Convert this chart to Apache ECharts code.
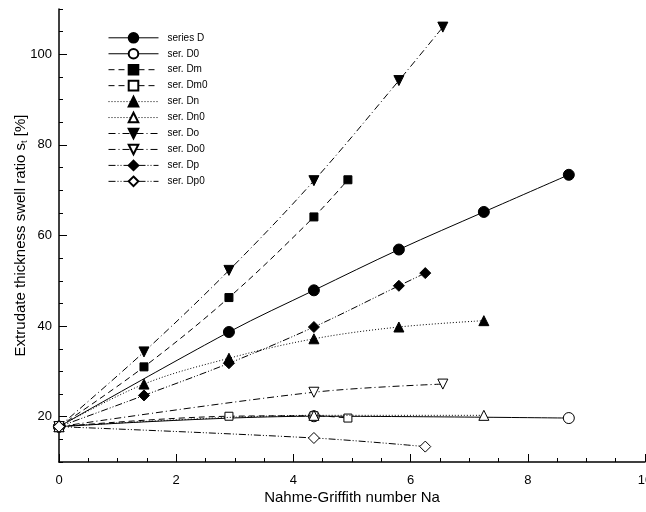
<!DOCTYPE html>
<html>
<head>
<meta charset="utf-8">
<script src="https://cdn.jsdelivr.net/npm/echarts@6/dist/echarts.min.js"></script>
<style>html,body{margin:0;padding:0;background:#fff}#c{width:646px;height:512px}</style>
</head>
<body>
<div id="c"></div>
<script>
// ---- data ----
const seriesNames = ['series D','ser. D0','ser. Dm','ser. Dm0','ser. Dn','ser. Dn0','ser. Do','ser. Do0','ser. Dp','ser. Dp0'];
const xD   = [0, 2.9, 4.35, 5.8, 7.25, 8.7];
const yD   = [17.8, 38.7, 47.9, 56.9, 65.2, 73.4];
const xD0  = [0, 4.35, 8.7];
const yD0  = [17.8, 20.1, 19.7];
const xDm  = [0, 1.45, 2.9, 4.35, 4.93];
const yDm  = [17.8, 31.0, 46.3, 64.1, 72.3];
const xDm0 = [0, 2.9, 4.35, 4.93];
const yDm0 = [17.8, 20.1, 20.2, 19.7];
const xDn  = [0, 1.45, 2.9, 4.35, 5.8, 7.25];
const yDn  = [17.8, 27.2, 32.9, 37.2, 39.8, 41.2];
const xDn0 = [0, 4.35, 7.25];
const yDn0 = [17.8, 20.3, 20.3];
const xDo  = [0, 1.45, 2.9, 4.35, 5.8, 6.55];
const yDo  = [17.8, 34.3, 52.3, 72.1, 94.2, 106.0];
const xDo0 = [0, 4.35, 6.55];
const yDo0 = [17.8, 25.4, 27.2];
const xDp  = [0, 1.45, 2.9, 4.35, 5.8, 6.25];
const yDp  = [17.8, 24.7, 31.8, 39.8, 48.9, 51.7];
const xDp0 = [0, 4.35, 6.25];
const yDp0 = [17.8, 15.3, 13.4];
const xMajorTicks = [0, 2, 4, 6, 8, 10];
const yMajorTicks = [20, 40, 60, 80, 100];

// ---- styles ----
const DASH = [6, 4], DOT = [1, 2], DASHDOT = [7, 3, 1, 3], DASHDOTDOT = [7, 2, 1, 2, 1, 2];
const pairs = (xs, ys) => xs.map((x, i) => [x, ys[i]]);
const defs = [
  {x: xD,   y: yD,   symbol: 'circle',   size: 11, fill: true,  dash: 'solid'},
  {x: xD0,  y: yD0,  symbol: 'circle',   size: 11, fill: false, dash: 'solid'},
  {x: xDm,  y: yDm,  symbol: 'rect',     size: 8,  fill: true,  dash: DASH},
  {x: xDm0, y: yDm0, symbol: 'rect',     size: 8,  fill: false, dash: DASH},
  {x: xDn,  y: yDn,  symbol: 'triangle', size: 10, fill: true,  dash: DOT},
  {x: xDn0, y: yDn0, symbol: 'triangle', size: 10, fill: false, dash: DOT},
  {x: xDo,  y: yDo,  symbol: 'triangle', size: 10, fill: true,  dash: DASHDOT, rot: 180},
  {x: xDo0, y: yDo0, symbol: 'triangle', size: 10, fill: false, dash: DASHDOT, rot: 180},
  {x: xDp,  y: yDp,  symbol: 'diamond',  size: 11, fill: true,  dash: DASHDOTDOT},
  {x: xDp0, y: yDp0, symbol: 'diamond',  size: 11, fill: false, dash: DASHDOTDOT}
];
const series = defs.map((d, i) => ({
  name: seriesNames[i],
  type: 'line',
  xAxisIndex: 0, yAxisIndex: 0,
  data: pairs(d.x, d.y),
  smooth: 0.35,
  symbol: d.symbol,
  symbolSize: d.size,
  symbolRotate: d.rot || 0,
  showSymbol: true,
  animation: false,
  z: 2 + i,
  lineStyle: {color: '#000', width: 1, type: d.dash},
  itemStyle: {color: d.fill ? '#000' : '#fff', borderColor: '#000', borderWidth: 1, opacity: 1},
  emphasis: {disabled: true}
}));

const font = 'Liberation Sans, Arial, Helvetica, sans-serif';
const chart = echarts.init(document.getElementById('c'), null, {renderer: 'canvas'});
chart.setOption({
  backgroundColor: '#fff',
  animation: false,
  grid: {left: 59, right: 1, top: 9, bottom: 50, containLabel: false, outerBoundsMode: 'none'},
  legend: {
    orient: 'vertical', left: 108, top: 32, padding: 0,
    itemWidth: 50, itemHeight: 12, itemGap: 4.35,
    data: seriesNames,
    lineStyle: {width: 1, color: '#000'},
    textStyle: {fontFamily: font, fontSize: 10, color: '#000', padding: [0, 0, 0, 4]},
    selectedMode: false
  },
  xAxis: [
    {type: 'value', min: 0, max: 10, interval: 2, position: 'bottom',
     axisLine: {show: true, lineStyle: {color: '#000', width: 1.5}},
     axisTick: {show: true, inside: true, length: 8, customValues: xMajorTicks, lineStyle: {color: '#000', width: 1}},
     axisLabel: {show: true, customValues: xMajorTicks, margin: 12, fontFamily: font, fontSize: 13, color: '#000'},
     splitLine: {show: false},
     name: 'Nahme-Griffith number Na', nameLocation: 'middle', nameGap: 28, nameMoveOverlap: false,
     nameTextStyle: {fontFamily: font, fontSize: 15, color: '#000'}},
    {type: 'value', min: 0, max: 10, interval: 0.5, position: 'bottom',
     axisLine: {show: false}, axisLabel: {show: false}, splitLine: {show: false},
     axisTick: {show: true, inside: true, length: 4, lineStyle: {color: '#000', width: 1}}}
  ],
  yAxis: [
    {type: 'value', min: 10, max: 110, interval: 10, position: 'left',
     axisLine: {show: true, lineStyle: {color: '#000', width: 1.5}},
     axisTick: {show: true, inside: true, length: 8, customValues: yMajorTicks, lineStyle: {color: '#000', width: 1}},
     axisLabel: {show: true, customValues: yMajorTicks, margin: 7, fontFamily: font, fontSize: 13, color: '#000'},
     splitLine: {show: false},
     name: '{a|Extrudate thickness swell ratio s}{b|t}{a| [%]}', nameLocation: 'middle', nameGap: 30, nameMoveOverlap: false,
     nameTextStyle: {fontFamily: font, fontSize: 15, color: '#000',
       rich: {a: {fontFamily: font, fontSize: 15, color: '#000'}, b: {fontFamily: font, fontSize: 9, color: '#000', verticalAlign: 'bottom', padding: [8, 0, 0, 0]}}}},
    {type: 'value', min: 10, max: 110, interval: 5, position: 'left',
     axisLine: {show: false}, axisLabel: {show: false}, splitLine: {show: false},
     axisTick: {show: true, inside: true, length: 4, lineStyle: {color: '#000', width: 1}}}
  ],
  series: series
});
</script>
</body>
</html>
